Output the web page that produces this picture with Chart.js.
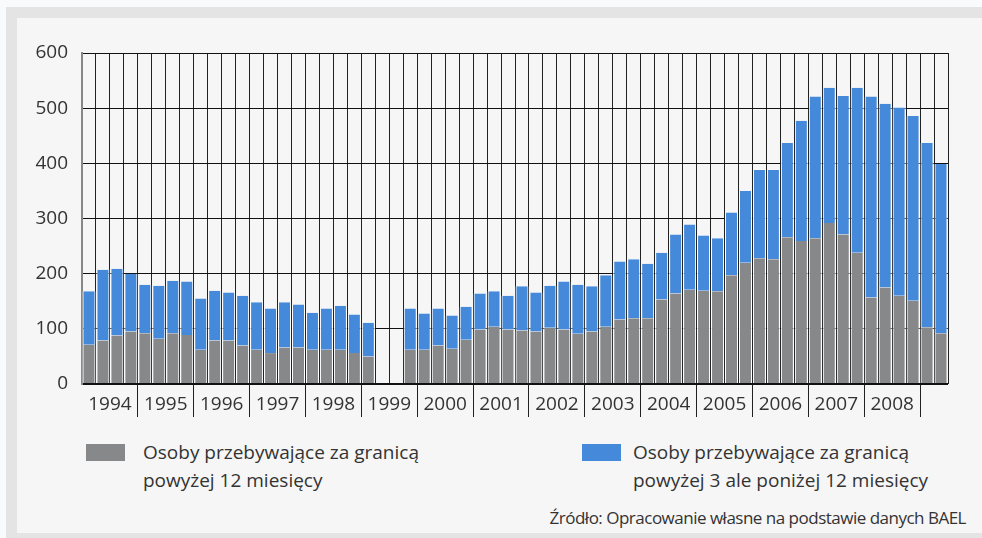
<!DOCTYPE html>
<html>
<head>
<meta charset="utf-8">
<script src="https://cdn.jsdelivr.net/npm/chart.js@4.4.1/dist/chart.umd.min.js"></script>
<style>
  body { margin: 0; background: #f9fafc; font-family: "Open Sans", sans-serif; color: #333; }
  #frame { position: absolute; left: 6px; top: 7px; width: 976px; height: 531px; background: #e3e4e3; }
  #panel { position: absolute; left: 17px; top: 18px; width: 965px; height: 515px; background: #f6f6f6; }
  #myChart { position: absolute; left: 17px; top: 18px; }
  .box { position: absolute; width: 39px; height: 17px; top: 444px; }
  .txt { position: absolute; top: 438px; font-size: 19px; line-height: 28px; white-space: nowrap; }
  #source { position: absolute; right: 16px; top: 507px; font-size: 17px; line-height: 22px; letter-spacing: -0.5px; }
</style>
</head>
<body>
<div id="frame"></div>
<div id="panel"></div>
<canvas id="myChart" width="965" height="420"></canvas>
<div class="box" style="left:86px; background:#87888a;"></div>
<div class="txt" id="lab1" style="left:143px;">Osoby przebywające za granicą<br>powyżej 12 miesięcy</div>
<div class="box" style="left:582px; background:#4589db;"></div>
<div class="txt" id="lab2" style="left:633px;">Osoby przebywające za granicą<br>powyżej 3 ale poniżej 12 miesięcy</div>
<div id="source">Źródło: Opracowanie własne na podstawie danych BAEL</div>
<script>
// Jahre und Quartale (1994 Q1 bis 2009 Q2)
const years = [1994, 1995, 1996, 1997, 1998, 1999, 2000, 2001, 2002, 2003, 2004, 2005, 2006, 2007, 2008, 2009];
const quarters = ['I', 'II', 'III', 'IV'];
const lastYearQuarters = 2;

// powyżej 12 miesięcy (tys. osób)
const values_over12 = [
  71, 79, 88, 95,
  92, 82, 92, 89,
  62, 79, 79, 70,
  62, 56, 66, 66,
  62, 62, 62, 56,
  50, null, null, 62,
  62, 70, 64, 80,
  99, 104, 99, 97,
  95, 102, 99, 91,
  95, 104, 117, 119,
  119, 153, 164, 171,
  169, 168, 197, 220,
  228, 226, 266, 259,
  264, 292, 271, 238,
  157, 175, 160, 151,
  103, 92
];
// powyżej 3 ale poniżej 12 miesięcy (tys. osób)
const values_3to12 = [
  97, 128, 121, 105,
  88, 96, 95, 97,
  93, 90, 87, 90,
  86, 81, 82, 78,
  67, 75, 80, 70,
  61, null, null, 75,
  66, 67, 60, 60,
  65, 64, 61, 80,
  71, 76, 87, 89,
  82, 93, 105, 107,
  99, 85, 107, 118,
  100, 96, 114, 130,
  160, 162, 171, 218,
  257, 245, 251, 299,
  364, 333, 341, 335,
  334, 307
];
const yTicks = [0, 100, 200, 300, 400, 500, 600];

// Kategorien zusammenbauen
const labels = [];
const yearOf = [];
years.forEach((y, i) => {
  const n = (i === years.length - 1) ? lastYearQuarters : 4;
  for (let q = 0; q < n; q++) {
    labels.push(y + ' ' + quarters[q]);
    yearOf.push(y);
  }
});

const tickFont = { family: 'Open Sans', size: 19 };

var ctx = document.getElementById('myChart').getContext('2d');
var myChart = new Chart(ctx, {
  type: 'bar',
  data: {
    labels: labels,
    datasets: [
      {
        label: 'Osoby przebywające za granicą powyżej 12 miesięcy',
        data: values_over12,
        backgroundColor: '#87888a',
        borderColor: '#ffffff',
        borderWidth: { left: 1, right: 1, top: 0, bottom: 0 },
        borderSkipped: false,
        categoryPercentage: 1,
        barPercentage: 0.93,
      },
      {
        label: 'Osoby przebywające za granicą powyżej 3 ale poniżej 12 miesięcy',
        data: values_3to12,
        backgroundColor: '#4589db',
        borderColor: '#ffffff',
        borderWidth: { left: 1, right: 1, top: 0, bottom: 0 },
        borderSkipped: false,
        categoryPercentage: 1,
        barPercentage: 0.93,
      },
    ]
  },
  options: {
    responsive: false,
    animation: false,
    layout: { padding: { top: 35, right: 34, left: 0, bottom: 0 } },
    plugins: {
      legend: { display: false },
      tooltip: { enabled: false },
    },
    scales: {
      x: {
        stacked: true,
        afterFit: (scale) => { scale.height = 54; },
        border: { display: false },
        grid: {
          offset: true,
          color: (c) => (c.index === 0 ? '#888888' : '#222222'),
          lineWidth: 1,
          tickLength: 33,
          tickColor: (c) => {
            const i = c.index;
            return (i !== undefined && i > 0 && i % 4 === 0 && i <= 60) ? '#222222' : 'rgba(0,0,0,0)';
          },
        },
        ticks: {
          autoSkip: false,
          maxRotation: 0,
          labelOffset: 7,
          padding: -24,
          color: '#333333',
          font: tickFont,
          callback: function (value, index) {
            return (index % 4 === 1 && yearOf[index] <= 2008) ? String(yearOf[index]) : '';
          },
        },
      },
      y: {
        stacked: true,
        min: 0,
        max: 600,
        afterFit: (scale) => { scale.width = 65; },
        afterBuildTicks: (scale) => { scale.ticks = yTicks.map(v => ({ value: v })); },
        border: { display: true, color: '#888888', width: 2 },
        grid: {
          drawTicks: false,
          color: '#111111',
          lineWidth: (c) => (c.tick && c.tick.value === 0 ? 2 : 1),
        },
        ticks: {
          padding: 14,
          color: '#333333',
          font: tickFont,
        },
      }
    }
  }
});
</script>
</body>
</html>
